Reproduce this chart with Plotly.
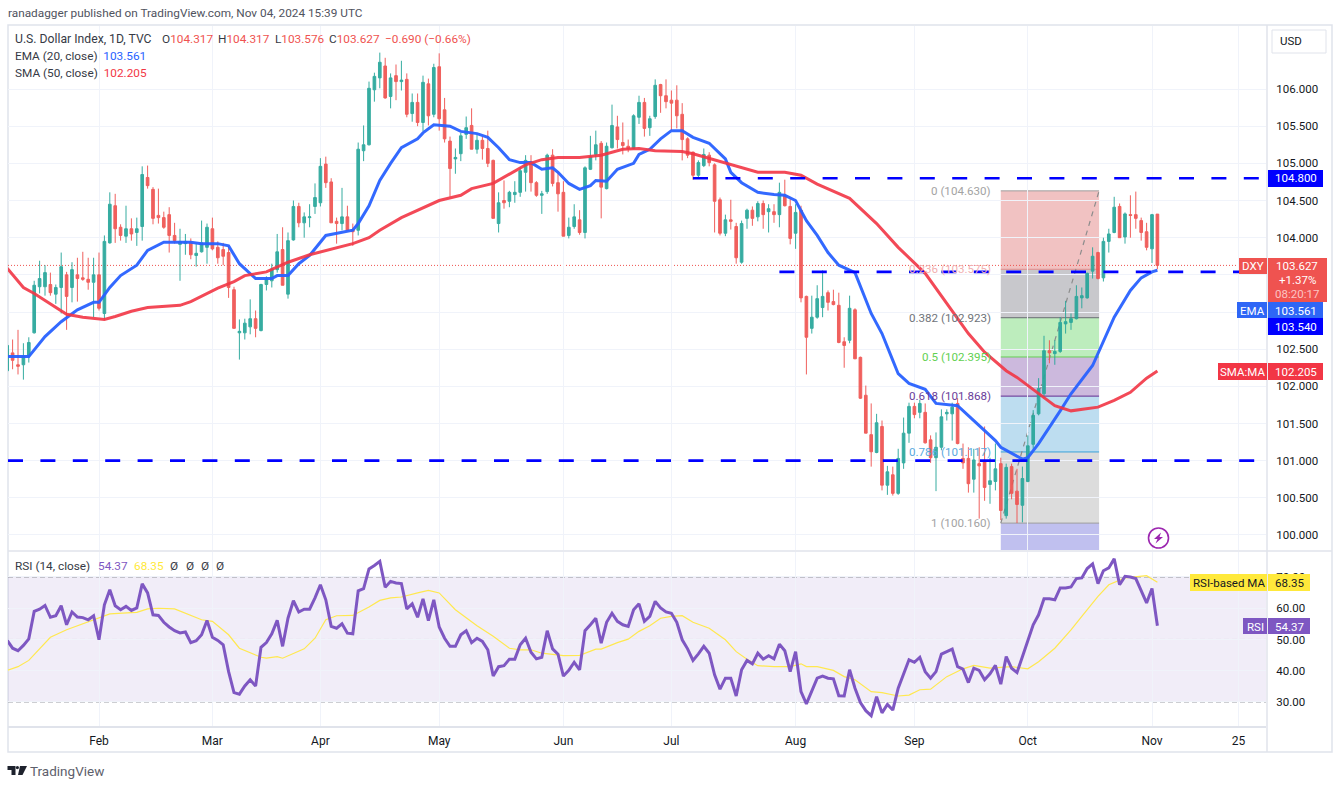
import plotly.graph_objects as go

opens = [102.21,102.45,102.29,102.29,102.41,102.72,103.34,103.34,103.37,103.24,103.33,103.50,103.33,103.50,103.46,103.44,103.40,103.50,102.98,103.93,
104.43,104.14,104.02,104.12,104.07,104.15,104.81,104.65,104.30,104.27,104.31,104.03,103.91,103.92,103.93,103.76,103.81,103.87,104.12,103.87,
103.84,103.80,103.30,102.72,102.72,102.80,102.91,102.75,103.37,103.42,103.57,103.84,103.24,103.97,104.42,104.20,104.27,104.42,104.47,104.99,
104.75,104.22,104.19,104.28,104.11,104.10,105.17,105.25,105.99,106.15,106.31,105.90,106.18,106.10,106.13,105.67,105.82,105.55,106.07,105.66,
106.30,105.72,105.30,105.06,105.13,105.39,105.51,105.19,105.31,105.20,105.04,104.19,104.50,104.49,104.58,104.61,104.88,105.01,104.74,104.57,
104.62,105.11,104.74,104.61,104.03,104.15,104.24,104.07,104.92,105.12,105.27,104.66,105.21,105.49,105.28,105.23,105.20,105.62,105.82,105.48,
105.63,106.06,105.91,105.85,105.85,105.66,105.33,105.15,104.84,104.97,105.11,104.98,104.51,104.06,104.24,104.15,103.67,104.26,104.37,104.28,
104.46,104.35,104.35,104.31,104.57,104.42,104.06,104.37,103.21,102.78,102.93,103.06,103.26,103.14,103.09,102.60,102.62,103.03,102.39,101.88,
101.35,101.11,101.46,100.67,100.81,100.56,100.97,101.37,101.73,101.65,101.65,101.28,101.04,101.18,101.63,101.63,101.77,101.03,101.03,100.75,
100.96,101.00,100.68,100.72,100.96,100.26,100.92,100.59,100.40,100.72,101.22,101.63,101.90,102.48,102.44,102.47,102.84,102.86,102.91,103.19,
103.19,103.55,103.80,103.46,103.95,104.07,104.42,104.01,104.31,104.31,104.23,104.08,103.85,104.317]
highs = [102.58,102.63,102.76,102.58,102.66,103.42,103.69,103.63,103.53,103.37,103.80,103.54,103.67,103.73,103.81,103.73,103.73,103.80,104.03,104.61,
104.59,104.18,104.43,104.26,104.27,104.96,104.97,104.68,104.66,104.35,104.41,104.20,104.12,104.05,103.99,103.92,104.23,104.19,104.27,103.95,
103.93,103.89,103.34,102.90,102.91,103.17,103.02,103.38,103.48,103.65,104.05,104.14,104.07,104.50,104.47,104.34,104.45,104.73,105.07,105.09,
104.80,104.27,104.67,104.43,104.19,105.28,105.51,106.10,106.22,106.49,106.42,106.21,106.33,106.38,106.21,105.94,105.94,106.18,106.14,106.34,
106.48,105.88,105.36,105.20,105.41,105.63,105.74,105.39,105.36,105.44,105.05,104.61,104.77,104.63,104.76,104.95,105.11,105.11,104.76,104.63,
105.13,105.19,104.88,104.76,104.27,104.45,104.37,104.96,105.37,105.44,105.30,105.28,105.79,105.64,105.55,105.32,105.66,105.91,105.88,105.64,
106.13,106.07,106.13,105.98,106.05,105.81,105.35,105.16,105.04,105.20,105.15,105.00,104.54,104.31,104.51,104.20,104.23,104.39,104.42,104.49,
104.50,104.45,104.45,104.74,104.78,104.53,104.45,104.43,103.22,103.22,103.36,103.56,103.29,103.30,103.26,102.66,103.22,103.05,102.40,102.01,
101.77,101.63,101.54,100.93,100.92,101.16,101.58,101.78,101.78,101.82,101.77,101.34,101.38,101.69,101.69,101.78,101.84,101.23,101.18,101.16,
101.18,101.46,101.04,101.23,101.04,100.96,100.96,100.89,100.92,101.34,101.68,102.11,102.68,102.62,102.62,102.93,103.15,102.98,103.36,103.33,
103.53,103.87,103.81,104.00,104.12,104.55,104.46,104.34,104.57,104.62,104.27,104.20,104.32,104.317]
lows = [102.10,102.23,102.16,102.09,102.32,102.71,103.25,103.22,103.22,103.11,102.98,102.76,103.13,103.14,103.42,103.30,102.93,103.02,102.90,103.92,
103.93,103.96,103.93,103.96,103.89,103.96,104.66,104.18,104.19,104.12,103.80,103.92,103.42,103.77,103.71,103.61,103.80,103.65,103.83,103.65,
103.63,103.19,102.78,102.36,102.63,102.70,102.66,102.74,103.29,103.33,103.53,103.36,103.18,103.96,104.14,104.00,104.14,104.32,104.42,104.67,
104.20,103.92,104.10,104.10,103.89,104.03,105.03,105.24,105.83,106.01,105.87,105.74,105.85,105.98,105.62,105.56,105.50,105.43,105.51,105.62,
105.44,105.28,104.55,104.86,105.03,105.33,105.19,105.13,105.05,104.95,104.26,104.07,104.39,104.41,104.47,104.55,104.62,104.62,104.55,104.32,
104.59,104.69,104.35,104.02,103.99,104.12,104.04,103.99,104.91,105.04,104.26,104.65,105.20,105.20,105.12,105.15,105.19,105.53,105.36,105.37,
105.60,105.68,105.74,105.44,105.47,105.04,105.07,104.78,104.80,104.95,104.96,104.07,104.03,104.02,104.11,103.65,103.65,104.12,104.16,104.22,
104.12,104.07,104.20,104.14,104.42,103.91,103.85,103.13,102.16,102.71,102.91,102.93,103.02,103.09,102.58,102.25,102.58,102.37,101.83,101.37,
100.92,101.10,100.60,100.54,100.53,100.54,100.89,101.24,101.57,101.57,101.23,100.97,100.59,101.14,101.54,101.27,101.22,100.89,100.57,100.57,
100.22,100.46,100.42,100.60,100.20,100.22,100.48,100.16,100.17,100.71,101.16,101.61,101.84,102.31,102.29,102.45,102.71,102.76,102.90,103.05,
103.18,103.45,103.44,103.41,103.80,104.06,104.00,103.92,104.00,104.12,103.96,103.83,103.66,103.576]
closes = [102.55,102.35,102.27,102.40,102.59,103.36,103.45,103.53,103.26,103.33,103.61,103.21,103.57,103.45,103.44,103.40,103.50,103.05,103.95,104.45,
104.12,104.03,104.12,104.05,104.12,104.85,104.70,104.26,104.27,104.14,104.03,103.96,103.95,103.95,103.77,103.79,103.93,104.14,103.85,103.73,
103.75,103.33,102.78,102.74,102.85,102.91,102.78,103.37,103.44,103.58,103.81,103.36,103.96,104.42,104.20,104.28,104.28,104.54,104.96,104.74,
104.20,104.19,104.28,104.10,104.08,105.19,105.25,106.01,106.17,106.36,105.88,106.15,106.10,106.12,105.66,105.82,105.55,106.09,105.64,106.29,
105.60,105.33,104.93,105.08,105.37,105.48,105.19,105.31,105.20,105.00,104.26,104.47,104.47,104.61,104.61,104.90,105.04,104.74,104.57,104.59,
105.11,104.73,104.59,104.02,104.14,104.28,104.07,104.94,105.09,105.25,104.68,105.23,105.51,105.32,105.24,105.20,105.64,105.82,105.47,105.60,
106.05,105.91,105.83,105.81,105.64,105.32,105.11,104.84,105.01,105.12,105.01,104.49,104.06,104.24,104.22,103.73,104.19,104.37,104.26,104.46,
104.31,104.39,104.31,104.61,104.43,103.99,104.34,103.19,102.66,102.93,103.18,103.21,103.13,103.10,102.59,102.55,103.05,102.37,101.84,101.37,
101.12,101.51,100.67,100.85,100.56,101.03,101.37,101.73,101.62,101.77,101.24,101.04,101.18,101.59,101.65,101.72,101.23,100.97,100.69,101.01,
100.93,100.64,100.73,100.89,100.33,100.91,100.56,100.41,100.76,101.20,101.61,101.97,102.48,102.45,102.47,102.86,102.87,102.91,103.21,103.22,
103.52,103.75,103.45,103.95,104.05,104.41,104.00,104.32,104.30,104.26,104.07,103.87,104.31,103.627]

ema_bar = [0,4,7,10,13,16,17,19,21,24,26,29,34,36,39,41,43,46,49,50,52,54,56,59,64,65,67,69,71,73,76,77,79,82,84,87,89,91,93,95,97,99,101,102,104,106,108,109,111,113,116,117,119,121,123,125,127,130,133,134,136,139,142,144,146,148,150,152,154,157,160,162,164,165,167,170,172,176,179,183,184,188,189,191,195,197,201,205,208,210,212,213]
ema_val = [102.40,102.40,102.67,102.87,103.03,103.13,103.13,103.33,103.49,103.63,103.83,103.94,103.94,103.92,103.92,103.89,103.65,103.45,103.45,103.49,103.49,103.65,103.76,104.03,104.10,104.19,104.43,104.77,105.00,105.21,105.33,105.41,105.52,105.50,105.43,105.40,105.35,105.21,105.05,105.01,105.01,104.92,104.94,104.88,104.73,104.65,104.70,104.77,104.76,104.92,105.00,105.12,105.19,105.33,105.44,105.44,105.35,105.27,105.06,104.88,104.74,104.61,104.58,104.57,104.50,104.23,104.03,103.80,103.63,103.53,102.98,102.71,102.35,102.17,102.04,101.96,101.77,101.74,101.54,101.27,101.18,101.02,101.04,101.23,101.67,101.90,102.28,102.93,103.29,103.46,103.54,103.561]
sma_bar = [0,3,5,8,11,14,18,20,23,26,32,34,36,39,42,44,48,52,56,59,64,67,69,73,76,80,84,86,90,93,96,99,102,106,110,114,117,120,125,127,131,133,136,139,144,147,150,156,161,165,170,174,178,181,185,187,191,194,197,202,205,208,211,213]
sma_val = [103.59,103.33,103.25,103.11,102.97,102.93,102.90,102.94,103.01,103.06,103.09,103.14,103.21,103.32,103.41,103.49,103.54,103.67,103.77,103.83,103.92,104.00,104.10,104.27,104.37,104.50,104.57,104.66,104.73,104.86,104.98,105.05,105.08,105.08,105.11,105.19,105.20,105.17,105.16,105.13,105.05,105.00,104.94,104.88,104.88,104.84,104.72,104.53,104.19,103.87,103.52,103.11,102.71,102.46,102.21,102.12,101.90,101.74,101.67,101.72,101.81,101.92,102.11,102.205]

rsi = [49.7,47.2,46.4,48.1,50.2,59.0,59.7,60.9,57.1,57.6,60.8,54.7,58.8,57.2,57.0,56.3,57.6,49.9,61.1,65.9,
60.8,59.5,60.6,59.3,60.1,67.8,64.9,57.9,57.7,55.5,54.0,52.8,52.1,52.4,49.0,49.6,51.5,56.1,50.7,49.7,
48.3,39.7,33.0,32.5,35.1,37.1,35.1,47.5,49.0,51.8,56.1,47.8,56.8,62.4,58.8,59.7,59.7,63.3,67.5,62.7,
54.2,53.6,55.0,52.0,51.8,65.6,66.3,72.6,73.7,75.0,66.7,68.6,68.1,67.9,59.8,61.4,57.1,63.0,56.0,62.7,
54.0,50.4,47.8,47.8,51.5,52.8,49.0,50.4,49.4,46.7,38.3,41.3,41.6,43.7,43.7,48.3,50.4,45.9,43.8,44.3,
52.8,47.0,45.3,38.3,40.1,42.7,40.3,52.8,54.7,56.8,48.8,55.5,58.4,55.8,54.7,54.2,59.5,61.4,55.8,57.4,
62.2,60.1,58.8,58.4,55.5,49.9,47.0,43.3,45.4,47.8,45.6,38.7,34.1,37.6,37.6,31.9,40.3,43.3,42.2,45.6,
43.7,44.8,43.8,48.5,46.4,39.7,46.1,33.3,29.4,33.3,37.6,38.3,37.6,37.4,32.0,31.9,40.3,34.4,29.8,27.2,
25.6,31.7,26.5,29.2,27.4,34.4,39.2,43.5,42.7,44.3,39.7,37.6,39.7,45.3,46.1,46.9,41.3,40.5,36.2,40.8,
40.1,37.1,39.0,41.7,35.7,44.5,40.8,39.4,44.5,49.9,54.7,57.9,63.0,63.0,62.7,66.5,66.5,66.8,69.5,69.7,
72.7,74.2,67.9,72.0,72.9,75.8,67.5,70.2,70.0,69.5,65.4,61.7,66.3,54.37]
rsi_ma_bar = [0,2,4,6,8,11,14,17,19,23,24,26,28,31,34,36,38,41,43,47,48,50,51,53,55,57,59,61,64,67,69,71,73,76,78,80,83,87,90,93,95,97,99,103,106,109,110,113,115,117,119,121,123,125,127,130,133,135,137,139,142,145,147,148,150,153,155,157,160,162,165,167,169,171,174,177,179,182,186,189,191,194,197,199,202,204,207,211,213]
rsi_ma_val = [40.1,41.3,43.3,47.0,50.7,53.1,55.0,56.8,58.2,58.6,58.7,59.8,60.0,59.8,57.6,56.3,55.8,51.5,47.2,44.3,44.0,44.5,44.0,45.6,47.0,50.4,56.3,57.6,57.7,60.4,62.5,63.3,63.6,64.9,65.7,64.9,59.5,54.4,51.0,47.2,46.7,46.7,45.6,44.8,44.9,46.9,46.9,49.0,50.1,52.6,54.4,56.8,57.4,57.6,55.5,53.6,49.9,46.1,43.7,41.6,41.3,41.3,42.2,41.3,41.3,40.1,38.1,37.1,33.3,33.0,31.9,32.2,33.9,34.1,38.1,40.6,41.7,40.8,41.3,40.6,42.9,47.2,53.1,57.4,63.8,67.5,69.7,70.4,68.35]

tick_bars = [17,38,58,80,103,123,146,168,189,212,228]
tick_text = ["Feb","Mar","Apr","May","Jun","Jul","Aug","Sep","Oct","Nov","25"]
price_ticks = [100,100.5,101,101.5,102,102.5,103,103.5,104,104.5,105,105.5,106]
price_hidden = [103,103.5]
rsi_ticks = [30,40,50,60,70]
fib_levels = [104.630,103.575,102.923,102.395,101.868,101.117,100.160]
fib_names = ["0","0.236","0.382","0.5","0.618","0.786","1"]
fib_line = ["#9e9e9e","#e08a8a","#666a70","#66cc55","#5e2a90","#3aa0d8","#9e9e9e"]
fib_text = ["#a3a3a3","#f2b0b0","#70747a","#62d050","#6a3d9a","#5aaade","#a3a3a3"]
fib_fill = ["rgba(235,170,170,.72)","rgba(185,185,190,.78)","rgba(170,232,170,.78)","rgba(190,165,212,.78)","rgba(170,212,236,.78)","rgba(210,210,210,.78)"]
levels = [(104.800,127),(103.540,143),(101.000,0)]

W, H = 1339, 786
FONT = "Roboto"
DARK = "#131722"
GRID = "#f0f3fa"
BORDER = "#e0e3eb"
UP, DOWN = "#26a69a", "#ef5350"
BLUE, RED, PURPLE, YEL = "#2962ff", "#f23645", "#7e57c2", "#ffe93b"
def X(p): return p / W
def Y(p): return 1 - p / H
BAR0, STEP = 7.2, 5.4
def B(p): return (p - BAR0) / STEP
XMAX = B(1266)

fig = go.Figure()
n = len(closes)
idx = list(range(n))
fig.add_trace(go.Candlestick(x=idx, open=opens, high=highs, low=lows, close=closes, opacity=.92,
    increasing=dict(line=dict(color=UP, width=1), fillcolor=UP),
    decreasing=dict(line=dict(color=DOWN, width=1), fillcolor=DOWN),
    whiskerwidth=0, hoverinfo="skip", xaxis="x", yaxis="y"))
fig.add_trace(go.Scatter(x=ema_bar, y=ema_val, mode="lines", line=dict(color=BLUE, width=3), opacity=.95, hoverinfo="skip", xaxis="x", yaxis="y"))
fig.add_trace(go.Scatter(x=sma_bar, y=sma_val, mode="lines", line=dict(color=RED, width=3), opacity=.9, hoverinfo="skip", xaxis="x", yaxis="y"))
fig.add_trace(go.Scatter(x=rsi_ma_bar, y=rsi_ma_val, mode="lines", line=dict(color="#ffe84f", width=1.2), hoverinfo="skip", xaxis="x", yaxis="y2"))
fig.add_trace(go.Scatter(x=idx, y=rsi, mode="lines", line=dict(color=PURPLE, width=3), hoverinfo="skip", xaxis="x", yaxis="y2"))

shapes, ann = [], []
def rect(x0, y0, x1, y1, fill, line=None):
    shapes.append(dict(type="rect", xref="paper", yref="paper", x0=X(x0), x1=X(x1), y0=Y(y0), y1=Y(y1),
        fillcolor=fill, line=dict(color=line or "rgba(0,0,0,0)", width=1 if line else 0), layer="above"))
def text(px, py, s, color=DARK, size=11.5, anchor="left"):
    ann.append(dict(xref="paper", yref="paper", x=X(px), y=Y(py), text=s, showarrow=False, xanchor=anchor, yanchor="middle",
        font=dict(family=FONT, size=size, color=color), borderpad=0, borderwidth=0))

# Outer frame and panel rules
shapes.append(dict(type="rect", xref="paper", yref="paper", x0=X(8), x1=X(1332), y0=Y(752), y1=Y(25), line=dict(color=BORDER, width=1.5), layer="below"))
shapes.append(dict(type="line", xref="paper", yref="paper", x0=X(8), x1=X(1332), y0=Y(551), y1=Y(551), line=dict(color=BORDER, width=1.5), layer="above"))
shapes.append(dict(type="line", xref="paper", yref="paper", x0=X(1267), x1=X(1267), y0=Y(752), y1=Y(25), line=dict(color=BORDER, width=1.5), layer="above"))

# RSI band
shapes.append(dict(type="rect", xref="x", yref="y2", x0=B(8), x1=XMAX, y0=30, y1=70, fillcolor="rgba(126,87,194,.11)", line_width=0, layer="below"))
for v in (70, 50, 30):
    shapes.append(dict(type="line", xref="x", yref="y2", x0=B(8), x1=XMAX, y0=v, y1=v, line=dict(color="#8e9099", width=1, dash="5px,3px"), layer="below"))

# Fibonacci retracement
f0, f1 = 184, 202.2
for i, fill in enumerate(fib_fill):
    shapes.append(dict(type="rect", xref="x", yref="y", x0=f0, x1=f1, y0=fib_levels[i+1], y1=fib_levels[i], fillcolor=fill, line_width=0, layer="below"))
shapes.append(dict(type="rect", xref="x", yref="y", x0=f0, x1=f1, y0=99.791, y1=fib_levels[-1], fillcolor="rgba(178,178,236,.82)", line_width=0, layer="below"))
for lv, nm, lc, tc in zip(fib_levels, fib_names, fib_line, fib_text):
    shapes.append(dict(type="line", xref="x", yref="y", x0=f0, x1=f1, y0=lv, y1=lv, line=dict(color=lc, width=1), layer="below"))
    ann.append(dict(xref="x", yref="y", x=f0, y=lv, text=f"{nm} ({lv:.3f})", showarrow=False, xanchor="right", yanchor="middle", xshift=-8,
        font=dict(family=FONT, size=11.6, color=tc)))
shapes.append(dict(type="line", xref="x", yref="y", x0=f0, x1=f1, y0=fib_levels[-1], y1=fib_levels[0], line=dict(color="#8c8c8c", width=1.2, dash="5px,5px"), layer="below"))

# Horizontal levels and last-price line
for lv, start in levels:
    shapes.append(dict(type="line", xref="x", yref="y", x0=start if start else B(8), x1=XMAX, y0=lv, y1=lv, line=dict(color="#0000ff", width=2.6, dash="15px,17.4px"), layer="above"))
shapes.append(dict(type="line", xref="x", yref="y", x0=B(8), x1=XMAX, y0=closes[-1], y1=closes[-1], line=dict(color=DOWN, width=1, dash="1px,2px"), layer="below"))

# Right-hand tags
rect(1268, 170, 1323, 187, "#0000ff"); text(1295.5, 178.5, "104.800", "white", anchor="center")
rect(1239, 258, 1267, 274, DOWN); text(1253, 266, "DXY", "white", anchor="center")
rect(1268, 258, 1327, 302, DOWN)
text(1297, 266, "103.627", "white", anchor="center"); text(1297, 280, "+1.37%", "white", anchor="center"); text(1297, 294, "08:20:17", "#fbc4c3", anchor="center")
rect(1237, 302, 1267, 318, "#2e66f6"); text(1252, 310.5, "EMA", "white", anchor="center")
rect(1268, 302, 1323, 318, "#2e66f6"); text(1295.5, 310.5, "103.561", "white", anchor="center")
rect(1268, 318, 1323, 335, "#0000ff"); text(1295.5, 326.5, "103.540", "white", anchor="center")
rect(1218, 363, 1267, 380, RED); text(1242.5, 371.5, "SMA:MA", "white", anchor="center")
rect(1268, 363, 1323, 380, RED); text(1295.5, 371.5, "102.205", "white", anchor="center")
rect(1190, 574, 1267, 591, YEL); text(1228.5, 582.5, "RSI-based MA", DARK, anchor="center")
rect(1268, 574, 1310, 591, YEL); text(1289, 582.5, "68.35", DARK, anchor="center")
rect(1243, 618, 1267, 634, PURPLE); text(1255, 626.5, "RSI", "white", anchor="center")
rect(1268, 618, 1310, 634, PURPLE); text(1289, 626.5, "54.37", "white", anchor="center")
rect(1272, 30, 1326, 53, "white", BORDER); text(1291, 41.5, "USD", DARK, anchor="center")

# Header and legends
LEG = "#363a45"
def c(s, col): return f'<span style="color:{col}">{s}</span>'
text(8, 12.5, "ranadagger published on TradingView.com, Nov 04, 2024 15:39 UTC", "#50535e", 11.8)
text(15, 39, "U.S. Dollar Index, 1D, TVC", LEG, 12.2)
for px, head, val in ((162, "O", "104.317"), (218, "H", "104.317"), (275, "L", "103.576"), (329, "C", "103.627")):
    text(px, 39, head + c(val, DOWN), LEG, 11.8)
text(385, 39, "−0.690 (−0.66%)", DOWN, 11.8)
text(15, 56, "EMA (20, close)  " + c("103.561", BLUE), LEG, 11.8)
text(15, 72.5, "SMA (50, close)  " + c("102.205", RED), LEG, 11.8)
text(15, 565.5, "RSI (14, close)", LEG, 11.8)
text(98, 565.5, "54.37", PURPLE, 11.8)
text(134, 565.5, "68.35", YEL, 11.8)
for px in (170, 185.5, 200.5, 216):
    text(px, 565.5, "Ø", LEG, 11.8)

# TradingView mark
def P(pts): return "M" + "L".join(f"{X(a)},{Y(b)}" for a, b in pts) + "Z"
for pts in ([(7.5,766),(15.5,766),(15.5,775),(11.5,775),(11.5,770),(7.5,770)],
            [(20,766),(27,766),(22.5,775),(18,775)]):
    shapes.append(dict(type="path", xref="paper", yref="paper", path=P(pts), fillcolor="#1e222d", line_width=0, layer="above"))
shapes.append(dict(type="circle", xref="paper", yref="paper", x0=X(15.8), x1=X(19), y0=Y(769.2), y1=Y(766), fillcolor="#1e222d", line_width=0, layer="above"))
text(30, 770.5, "TradingView", "#5d606b", 13.5)

# Lightning badge
shapes.append(dict(type="circle", xref="paper", yref="paper", x0=X(1148.5), x1=X(1168.5), y0=Y(548), y1=Y(528), fillcolor="white", line=dict(color="#9c27b0", width=1.6), layer="above"))
shapes.append(dict(type="path", xref="paper", yref="paper", path=P([(1161,532.5),(1154,539),(1157.5,539),(1155.5,543.5),(1163,537),(1159.5,537)]), fillcolor="#9c27b0", line_width=0, layer="above"))

tfont = dict(family=FONT, size=11.5, color=DARK)
fig.update_layout(
    width=W, height=H, autosize=False, showlegend=False, paper_bgcolor="white", plot_bgcolor="white",
    margin=dict(l=0, r=0, t=0, b=0), boxgap=0.3, shapes=shapes, annotations=ann, hovermode=False,
    xaxis=dict(domain=[X(8), X(1266)], range=[B(8), XMAX], anchor="y2", tickmode="array", tickvals=tick_bars, ticktext=tick_text,
        showgrid=True, gridcolor=GRID, gridwidth=1, zeroline=False, showline=True, linecolor=BORDER, linewidth=1.5,
        ticks="outside", ticklen=3, tickcolor="rgba(0,0,0,0)", tickfont=dict(family=FONT, size=12, color=DARK), rangeslider=dict(visible=False)),
    yaxis=dict(domain=[Y(550), Y(26)], range=[99.798, 106.848], side="right", anchor="x", tickmode="array", tickvals=price_ticks,
        ticktext=["" if v in price_hidden else f"{v:.3f}" for v in price_ticks], showgrid=True, gridcolor=GRID, zeroline=False,
        ticks="outside", ticklen=7, tickcolor="rgba(0,0,0,0)", tickfont=tfont),
    yaxis2=dict(domain=[Y(726), Y(552)], range=[22.3, 78], side="right", anchor="x", tickmode="array", tickvals=rsi_ticks,
        ticktext=[f"{v:.2f}" for v in rsi_ticks], showgrid=True, gridcolor=GRID, zeroline=False,
        ticks="outside", ticklen=7, tickcolor="rgba(0,0,0,0)", tickfont=tfont),
)
fig.write_html("out.html", config={"displayModeBar": False}, post_script="document.body.style.margin='0';document.documentElement.style.overflow='hidden';")
